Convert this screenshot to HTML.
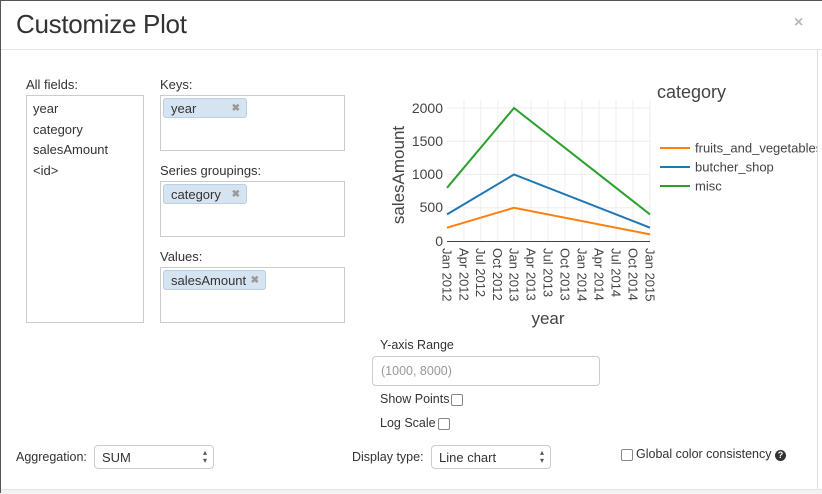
<!DOCTYPE html>
<html><head><style>
body{margin:0;width:822px;height:493px;overflow:hidden;background:#fff;font-family:"Liberation Sans",sans-serif;color:#333;position:relative}
.a{position:absolute}
.lbl{font-size:13px;color:#333}
.box{position:absolute;border:1px solid #ccc;background:#fff;box-sizing:border-box}
.tag{position:absolute;background:#d6e3f0;border:1px solid #b8cfe6;border-radius:3px;font-size:13px;height:20px;line-height:20px;padding-left:7px;box-sizing:border-box;color:#333}
.tag span{position:absolute;right:6px;color:#999;font-size:10px;font-weight:bold}
.sel{position:absolute;border:1px solid #ccc;border-radius:4px;height:24px;line-height:24px;font-size:13px;padding-left:7px;box-sizing:border-box}
.sel:after{content:"\25B4\A\25BE";white-space:pre;position:absolute;right:6px;top:3px;font-size:8px;line-height:8px;color:#555}
.cb{display:inline-block;width:10px;height:10px;border:1px solid #888;border-radius:2px;vertical-align:middle;margin-left:2px}
</style></head><body>
<div class="a" style="left:0;top:0;width:1px;height:493px;background:#555"></div>
<div class="a" style="left:0;top:0;width:822px;height:1px;background:#555"></div>
<div class="a" style="left:16px;top:9px;font-size:26px;color:#333;letter-spacing:-0.3px">Customize Plot</div>
<div class="a" style="left:794px;top:14px;font-size:16px;color:#bbb;font-weight:bold">×</div>
<div class="a" style="left:1px;top:49px;width:821px;height:1px;background:#e5e5e5"></div>

<div class="a lbl" style="left:26px;top:77px">All fields:</div>
<div class="box" style="left:26px;top:95px;width:118px;height:228px"></div>
<div class="a lbl" style="left:33px;top:99px;line-height:20.7px">year<br>category<br>salesAmount<br>&lt;id&gt;</div>

<div class="a lbl" style="left:160px;top:77px">Keys:</div>
<div class="box" style="left:160px;top:95px;width:185px;height:56px"></div>
<div class="tag" style="left:163px;top:98px;width:84px">year<span>✖</span></div>
<div class="a lbl" style="left:160px;top:163px">Series groupings:</div>
<div class="box" style="left:160px;top:181px;width:185px;height:56px"></div>
<div class="tag" style="left:163px;top:184px;width:84px">category<span>✖</span></div>
<div class="a lbl" style="left:160px;top:249px">Values:</div>
<div class="box" style="left:160px;top:267px;width:185px;height:56px"></div>
<div class="tag" style="left:163px;top:270px;width:103px">salesAmount<span>✖</span></div>

<svg class="a" style="left:0;top:0" width="822" height="340" font-family="Liberation Sans, sans-serif">
<g stroke="#eee" stroke-width="1">
<line x1="447" y1="207.75" x2="650" y2="207.75"/><line x1="447" y1="174.5" x2="650" y2="174.5"/>
<line x1="447" y1="141.25" x2="650" y2="141.25"/><line x1="447" y1="108" x2="650" y2="108"/>
<line x1="463.9" y1="100" x2="463.9" y2="241"/><line x1="480.8" y1="100" x2="480.8" y2="241"/><line x1="497.8" y1="100" x2="497.8" y2="241"/>
<line x1="514" y1="100" x2="514" y2="241"/><line x1="531" y1="100" x2="531" y2="241"/><line x1="548" y1="100" x2="548" y2="241"/><line x1="565" y1="100" x2="565" y2="241"/>
<line x1="582" y1="100" x2="582" y2="241"/><line x1="599" y1="100" x2="599" y2="241"/><line x1="616" y1="100" x2="616" y2="241"/><line x1="633" y1="100" x2="633" y2="241"/><line x1="650" y1="100" x2="650" y2="241"/>
</g>
<line x1="447" y1="241.5" x2="650" y2="241.5" stroke="#444" stroke-width="1"/>
<g fill="none" stroke-width="2">
<polyline points="447,227.7 514,207.75 650,234.35" stroke="#ff7f0e"/>
<polyline points="447,214.4 514,174.5 650,227.7" stroke="#1f77b4"/>
<polyline points="447,187.8 514,108 650,214.4" stroke="#2ca02c"/>
</g>
<g font-size="14" fill="#444" text-anchor="end">
<text x="443" y="246">0</text><text x="443" y="212">500</text><text x="443" y="179">1000</text><text x="443" y="146">1500</text><text x="443" y="113">2000</text>
</g>
<g font-size="13" fill="#444">
<text transform="translate(447,248) rotate(90)" dy="0.35em">Jan 2012</text>
<text transform="translate(463.9,248) rotate(90)" dy="0.35em">Apr 2012</text>
<text transform="translate(480.8,248) rotate(90)" dy="0.35em">Jul 2012</text>
<text transform="translate(497.8,248) rotate(90)" dy="0.35em">Oct 2012</text>
<text transform="translate(514,248) rotate(90)" dy="0.35em">Jan 2013</text>
<text transform="translate(531,248) rotate(90)" dy="0.35em">Apr 2013</text>
<text transform="translate(548,248) rotate(90)" dy="0.35em">Jul 2013</text>
<text transform="translate(565,248) rotate(90)" dy="0.35em">Oct 2013</text>
<text transform="translate(582,248) rotate(90)" dy="0.35em">Jan 2014</text>
<text transform="translate(599,248) rotate(90)" dy="0.35em">Apr 2014</text>
<text transform="translate(616,248) rotate(90)" dy="0.35em">Jul 2014</text>
<text transform="translate(633,248) rotate(90)" dy="0.35em">Oct 2014</text>
<text transform="translate(650,248) rotate(90)" dy="0.35em">Jan 2015</text>
</g>
<text transform="translate(404,175) rotate(-90)" text-anchor="middle" font-size="17" fill="#444">salesAmount</text>
<text x="548" y="324" text-anchor="middle" font-size="17" fill="#444">year</text>
<text x="657" y="98" font-size="18" fill="#444">category</text>
<g stroke-width="2"><line x1="660" y1="148" x2="690" y2="148" stroke="#ff7f0e"/><line x1="660" y1="167" x2="690" y2="167" stroke="#1f77b4"/><line x1="660" y1="186" x2="690" y2="186" stroke="#2ca02c"/></g>
<g font-size="13" fill="#444"><text x="695" y="152.5">fruits_and_vegetables</text><text x="695" y="171.5">butcher_shop</text><text x="695" y="190.5">misc</text></g>
</svg>
<div class="a" style="left:817px;top:50px;width:5px;height:440px;background:#fff"></div>
<div class="a" style="left:817px;top:50px;width:1px;height:440px;background:#ddd"></div>

<div class="a" style="left:380px;top:338px;font-size:12.5px">Y-axis Range</div>
<div class="box" style="left:372px;top:356px;width:228px;height:30px;border-radius:4px"></div>
<div class="a" style="left:381px;top:364px;font-size:12.5px;color:#999">(1000, 8000)</div>
<div class="a" style="left:380px;top:392px;font-size:12.5px">Show Points<span class="cb"></span></div>
<div class="a" style="left:380px;top:416px;font-size:12.5px">Log Scale<span class="cb"></span></div>

<div class="a" style="left:16px;top:450px;font-size:12.5px">Aggregation:</div>
<div class="sel" style="left:94px;top:445px;width:120px">SUM</div>
<div class="a" style="left:352px;top:450px;font-size:12.5px">Display type:</div>
<div class="sel" style="left:431px;top:445px;width:120px">Line chart</div>
<div class="a" style="left:621px;top:447px;font-size:12.5px"><span class="cb" style="margin:0 3px 0 0"></span>Global color consistency <span style="display:inline-block;width:11px;height:11px;border-radius:50%;background:#333;color:#fff;font-size:9px;text-align:center;line-height:11px;font-weight:bold">?</span></div>
<div class="a" style="left:1px;top:489px;width:821px;height:4px;background:#f2f2f2;border-top:1px solid #e5e5e5"></div>
</body></html>
